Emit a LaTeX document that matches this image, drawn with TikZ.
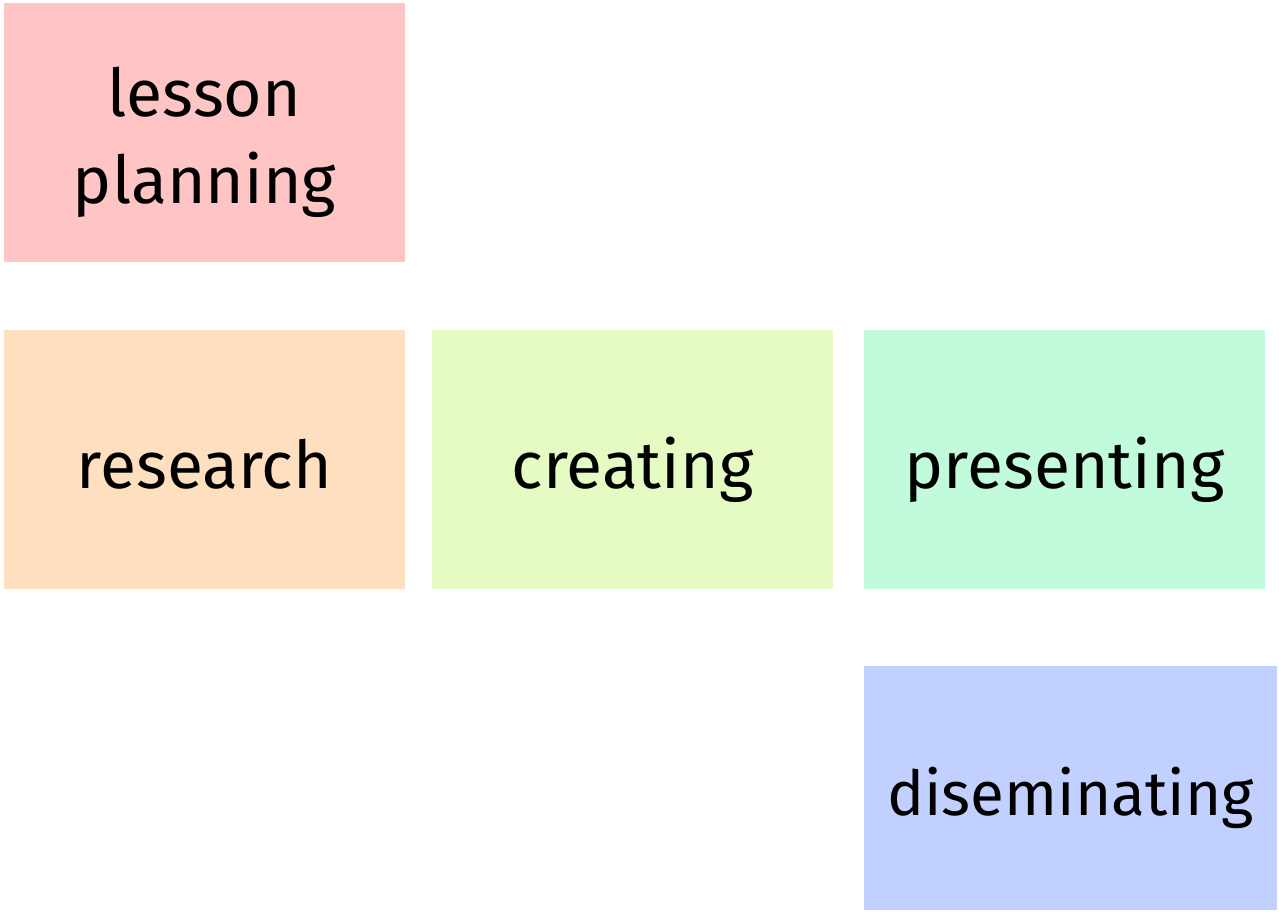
\documentclass[tikz,border=0pt]{standalone}
\usepackage{fontspec}
\setmainfont{Fira Sans}
\definecolor{planpink}{HTML}{FFC5C5}
\definecolor{researchpeach}{HTML}{FEDFC0}
\definecolor{creategreen}{HTML}{E6FBC4}
\definecolor{presentmint}{HTML}{C2FBDC}
\definecolor{dissemblue}{HTML}{C1D0FE}
\begin{document}
\begin{tikzpicture}[x=1pt, y=-1pt,
	phase/.style={minimum width=401pt, minimum height=259pt, inner sep=0pt, align=center,
		text height=57pt, text depth=0pt, font=\fontsize{66}{87}\selectfont}]
		\useasboundingbox (0,0) rectangle (1279,912);
		
		%top row
		\node[phase, fill=planpink, text height=143pt] (planning) at (204.5, 132.5){lesson\\planning};
		
		%middle row
		\node[phase, fill=researchpeach] (research) at (204.5, 459.5){research};
		\node[phase, fill=creategreen] (creating) at (632.5, 459.5){creating};
		\node[phase, fill=presentmint] (presenting) at (1064.5, 459.5){presenting};
		
		%bottom row
		\node[phase, fill=dissemblue, minimum width=413pt, minimum height=244pt, text height=54pt,
			font=\fontsize{62}{87}\selectfont] (diseminating) at (1070.5, 788){diseminating};
\end{tikzpicture}
\end{document}
